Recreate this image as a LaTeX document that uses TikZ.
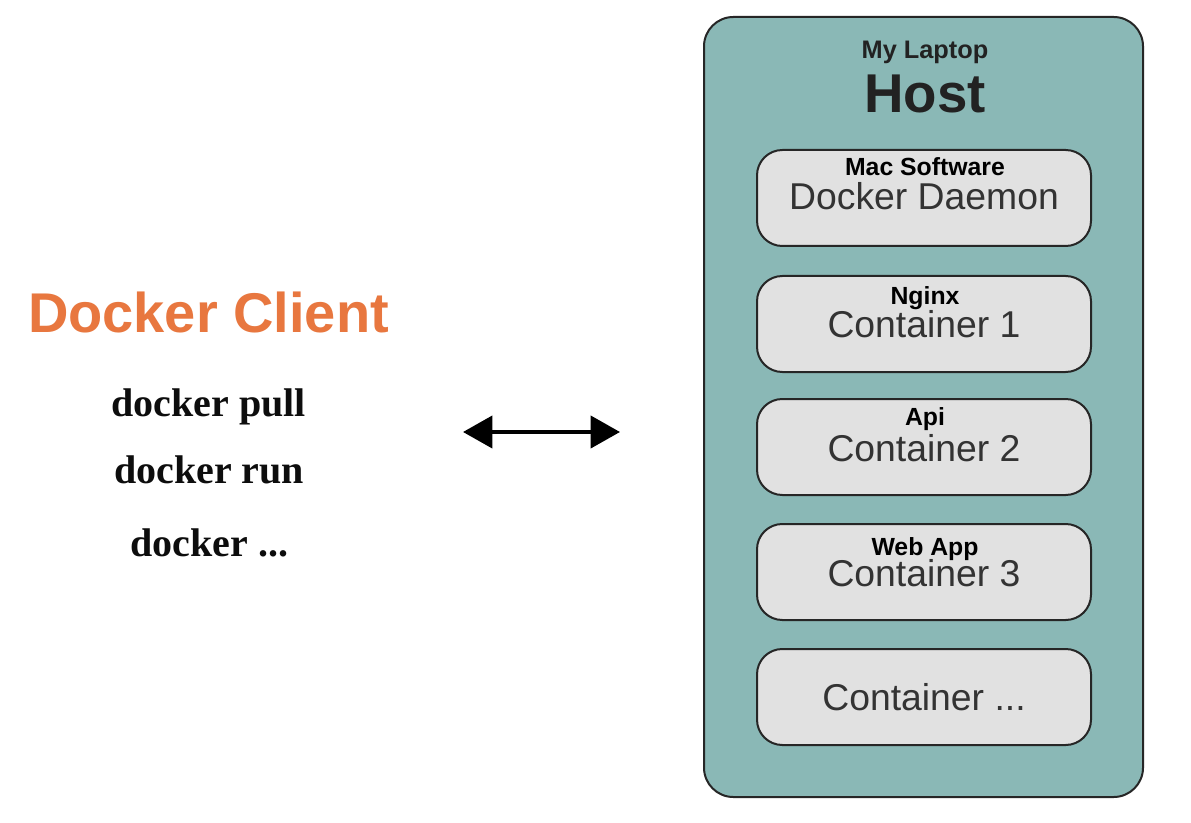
\documentclass[tikz,border=0pt]{standalone}
\usepackage{fontspec}
\setmainfont{Liberation Sans}
\newfontfamily\timesfont{Liberation Serif}
\usetikzlibrary{arrows.meta}
\definecolor{hostteal}{HTML}{8AB8B6}
\definecolor{boxgray}{HTML}{E1E1E1}
\definecolor{clientorange}{HTML}{E8773F}
\definecolor{darktext}{HTML}{222222}
\definecolor{graytext}{HTML}{333333}
\begin{document}
\begin{tikzpicture}[x=0.75pt,y=-0.75pt,
  hostbox/.style={draw=black!85,line width=1.5pt,fill=hostteal,rounded corners=22pt,
    minimum width=439*0.75pt,minimum height=780*0.75pt,inner sep=0pt},
  innerbox/.style={draw=black!85,line width=1.5pt,fill=boxgray,rounded corners=19pt,
    minimum width=334*0.75pt,minimum height=96*0.75pt,inner sep=0pt},
  smalllabel/.style={anchor=base,inner sep=0pt,font=\fontsize{18.6pt}{20pt}\selectfont\bfseries,text=black},
  biglabel/.style={anchor=base,inner sep=0pt,font=\fontsize{28pt}{30pt}\selectfont,text=graytext},
  cmd/.style={anchor=base,inner sep=0pt,font=\timesfont\fontsize{30pt}{32pt}\selectfont\bfseries,text=black!95}
]
\useasboundingbox (0,0) rectangle (1191,823);
\fill[white] (0,0) rectangle (1191,823);

% Host
\node[hostbox] (host) at (923.5,407) {};
\node[anchor=base,inner sep=0pt,font=\fontsize{19pt}{21pt}\selectfont\bfseries,text=darktext] (laptop) at (925,59) {My Laptop};
\node[anchor=base,inner sep=0pt,font=\fontsize{41pt}{43pt}\selectfont\bfseries,text=darktext] (hostlbl) at (925,113) {Host};

% inner boxes
\node[innerbox] (daemon) at (924,198) {};
\node[innerbox] (c1) at (924,324) {};
\node[innerbox] (c2) at (924,447) {};
\node[innerbox] (c3) at (924,572) {};
\node[innerbox] (cn) at (924,697) {};

\node[smalllabel] (daemonT) at (925,176) {Mac Software};
\node[biglabel] (daemonB) at (924,210) {Docker Daemon};
\node[smalllabel] (c1T) at (925,305) {Nginx};
\node[biglabel] (c1B) at (924,338) {Container 1};
\node[smalllabel] (c2T) at (925,425) {Api};
\node[biglabel] (c2B) at (924,461) {Container 2};
\node[smalllabel] (c3T) at (925,555) {Web App};
\node[biglabel] (c3B) at (924,586) {Container 3};
\node[biglabel] (cnB) at (924,710) {Container ...};

% Client
\node[anchor=base,inner sep=0pt,font=\fontsize{42pt}{44pt}\selectfont\bfseries,text=clientorange] (client) at (208.5,333) {Docker Client};
\node[cmd] (pull) at (208.5,416) {docker pull};
\node[cmd] (run) at (209,483) {docker run};
\node[cmd] (etc) at (209.5,556) {docker ...};

% Arrow
\coordinate (aL) at (463,432);
\coordinate (aR) at (620,432);
\draw[line width=3pt,{Triangle[length=22pt,width=24pt]}-{Triangle[length=22pt,width=24pt]}] (aL) -- (aR);
\end{tikzpicture}
\end{document}
